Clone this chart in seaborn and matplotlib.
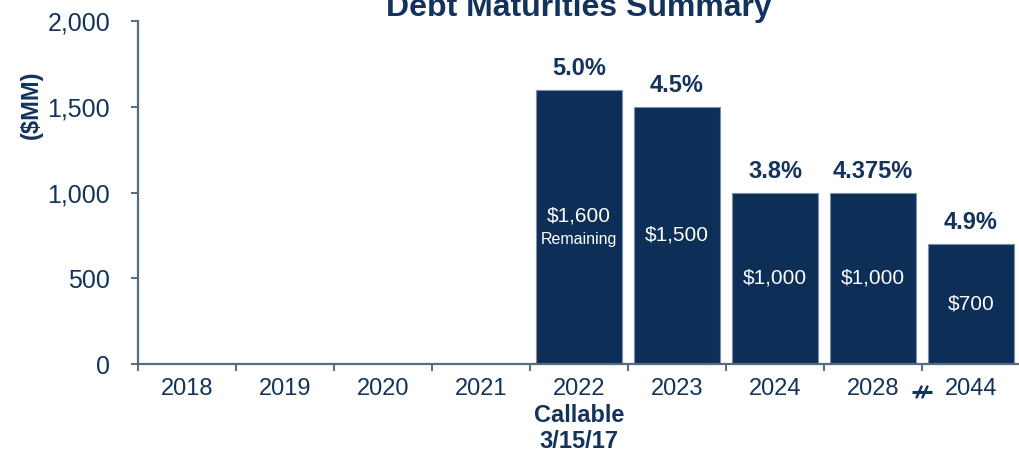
import matplotlib
matplotlib.use("Agg")
import matplotlib.pyplot as plt
import matplotlib.transforms as mtransforms
from matplotlib.ticker import FuncFormatter, FixedLocator
import seaborn as sns
import pandas as pd

# Maturity schedule ($MM) and coupon rates
years = ["2018", "2019", "2020", "2021", "2022", "2023", "2024", "2028", "2044"]
amounts = [0, 0, 0, 0, 1600, 1500, 1000, 1000, 700]
rates = ["", "", "", "", "5.0%", "4.5%", "3.8%", "4.375%", "4.9%"]
inner_notes = ["", "", "", "", "Remaining", "", "", "", ""]
y_ticks = [0, 500, 1000, 1500, 2000]

NAVY = "#0d2e57"
AXIS = "#566a80"
TEXT = "#13335c"

sns.set_theme(style="white")
plt.rcParams["font.family"] = ["Liberation Sans", "DejaVu Sans"]

df = pd.DataFrame({"year": years, "amount": amounts})

fig = plt.figure(figsize=(10.2, 4.57), dpi=100)
ax = fig.add_axes([138 / 1020, 93 / 457, 882 / 1020, 343 / 457])

sns.barplot(data=df, x="year", y="amount", order=years, color=NAVY,
            width=0.87, edgecolor="#7d90a8", linewidth=0.8, saturation=1,
            ax=ax)

ax.set_xlim(-0.5, len(years) - 0.5)
ax.set_ylim(0, 2000)
ax.set_xlabel("")
ax.set_ylabel("")

# Spines
for side in ("top", "right"):
    ax.spines[side].set_visible(False)
for side in ("left", "bottom"):
    ax.spines[side].set_color(AXIS)
    ax.spines[side].set_linewidth(1.6)

# Y axis ticks
ax.yaxis.set_major_locator(FixedLocator(y_ticks))
ax.yaxis.set_major_formatter(FuncFormatter(lambda v, p: f"{int(v):,}"))
ax.tick_params(axis="y", which="major", left=True, direction="out", length=5,
               width=1.4, color=AXIS, pad=15, labelsize=18, labelcolor=TEXT)

# X axis: labels at bar centres, tick marks at category boundaries
ax.set_xticks(range(len(years)))
ax.set_xticklabels(years)
ax.set_xticks([i - 0.5 for i in range(len(years) + 1)], minor=True)
ax.tick_params(axis="x", which="major", bottom=False, length=0, pad=10,
               labelsize=17, labelcolor=TEXT)
ax.tick_params(axis="x", which="minor", bottom=True, direction="out", length=5,
               width=1.4, color=AXIS)

# Labels on and above the bars
for i, (amt, rate, note) in enumerate(zip(amounts, rates, inner_notes)):
    if amt <= 0:
        continue
    ax.annotate(rate, xy=(i, amt), xytext=(0, 7), textcoords="offset points",
                ha="center", va="bottom", fontsize=17, fontweight="bold",
                color=TEXT)
    if note:
        ax.annotate(f"${amt:,}", xy=(i, amt / 2), xytext=(0, 8),
                    textcoords="offset points", ha="center", va="center",
                    fontsize=15, color="white")
        ax.annotate(note, xy=(i, amt / 2), xytext=(0, -9),
                    textcoords="offset points", ha="center", va="center",
                    fontsize=11.5, color="white")
    else:
        ax.text(i, amt / 2, f"${amt:,}", ha="center", va="center",
                fontsize=15, color="white")

# Title and axis unit
ax.text(0.5, 1.0146, "Debt Maturities Summary", transform=ax.transAxes,
        ha="center", va="baseline", fontsize=23, fontweight="bold",
        color=TEXT, clip_on=False)
fig.text(31 / 1020, 1 - 105 / 457, "($MM)", rotation=90, ha="center",
         va="center", fontsize=17, fontweight="bold", color=TEXT)

# Call date note under 2022
call_x = years.index("2022")
trans = mtransforms.blended_transform_factory(ax.transData, fig.transFigure)
ax.text(call_x, 1 - 416 / 457, "Callable", transform=trans, ha="center",
        va="center", fontsize=17, fontweight="bold", color=TEXT, clip_on=False)
ax.text(call_x, 1 - 441 / 457, "3/15/17", transform=trans, ha="center",
        va="center", fontsize=17, fontweight="bold", color=TEXT, clip_on=False)

# Axis break mark between 2028 and 2044
bx = years.index("2028") + 0.5
by = 1 - 392 / 457
ax.plot([bx - 0.1, bx + 0.1], [by, by], transform=trans, color=TEXT,
        lw=2.2, clip_on=False, solid_capstyle="butt")
for dx in (-0.03, 0.03):
    ax.plot([bx + dx - 0.025, bx + dx + 0.025], [by - 0.012, by + 0.012],
            transform=trans, color=TEXT, lw=1.8, clip_on=False)

fig.savefig("out.png", dpi=100)
